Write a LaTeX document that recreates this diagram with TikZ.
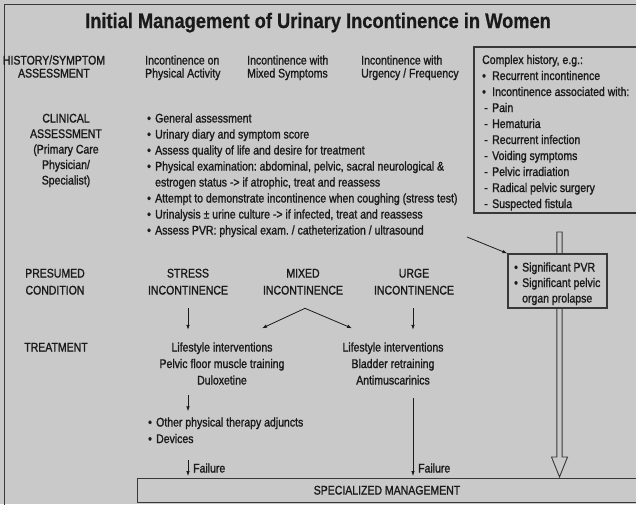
\documentclass[tikz,border=0pt]{standalone}
\usepackage{fontspec}
\setmainfont{Liberation Sans}[FakeStretch=0.84,FakeBold=1.3]
\newfontfamily\titlefont{Liberation Sans}[FakeStretch=0.87,FakeBold=0.6]
\usetikzlibrary{arrows.meta,calc}
\frenchspacing

\definecolor{bg}{HTML}{C9C9C9}
\definecolor{ink}{HTML}{1A1A1A}
\definecolor{rulec}{HTML}{383838}

% stacked lines with a fixed line pitch; the box baseline is the first line
\newcommand\ccol[2][16pt]{\vtop{\baselineskip=#1\lineskiplimit=-100pt\lineskip=0pt\halign{\hfil##\hfil\cr#2\crcr}}}
\newcommand\lcol[2][16pt]{\vtop{\baselineskip=#1\lineskiplimit=-100pt\lineskip=0pt\halign{##\hfil\cr#2\crcr}}}
\newcommand\bul[1][8pt]{\makebox[#1][l]{\textbullet}}
\newcommand\dsh{\makebox[10pt][l]{\,-}}

\begin{document}
\begin{tikzpicture}[x=1pt,y=-1pt,
  every node/.style={inner sep=0pt, text=ink, font=\fontsize{12.5}{16}\selectfont},
  boxline/.style={draw=rulec, line width=1.1pt},
  arr/.style={draw=ink, line width=0.8pt, -{Latex[length=5pt,width=3.6pt]}}]
\useasboundingbox (0,0) rectangle (636,504);
\clip (0,0) rectangle (636,504);
\fill[bg] (0,0) rectangle (636,504);

% outer frame
\draw[rulec, line width=1.3pt] (4.5,520) -- (4.5,4.5) -- (650,4.5);

% title
\node[font=\titlefont\bfseries\fontsize{21}{24}\selectfont, anchor=base] (title) at (318,28)
  {Initial Management of Urinary Incontinence in Women};

% column positions
\coordinate (colS) at (188,0);
\coordinate (colU) at (413,0);

% history / symptom row
\node[anchor=base] (histlab) at (54,64.5) {\ccol[13pt]{HISTORY/SYMPTOM\cr ASSESSMENT}};
\node[anchor=base west] (hphys) at (145,64.5) {\lcol[13pt]{Incontinence on\cr Physical Activity}};
\node[anchor=base west] (hmix) at (247,64.5) {\lcol[13pt]{Incontinence with\cr Mixed Symptoms}};
\node[anchor=base west] (hurg) at (361,64.5) {\lcol[13pt]{Incontinence with\cr Urgency / Frequency}};

% complex history box
\draw[boxline, fill=bg] (474,47) rectangle (650,213);
\node[anchor=base west] (complex) at (482,64) {\lcol{Complex history, e.g.:\cr
  \bul[10pt]Recurrent incontinence\cr
  \bul[10pt]Incontinence associated with:\cr
  \dsh Pain\cr
  \dsh Hematuria\cr
  \dsh Recurrent infection\cr
  \dsh Voiding symptoms\cr
  \dsh Pelvic irradiation\cr
  \dsh Radical pelvic surgery\cr
  \dsh Suspected fistula}};

% clinical assessment row
\node[anchor=base] (clinlab) at (66,122.5) {\ccol[15.5pt]{CLINICAL\cr ASSESSMENT\cr (Primary Care\cr Physician/\cr Specialist)}};
\node[anchor=base west] (clinlist) at (147,122.5) {\lcol{\bul General assessment\cr
  \bul Urinary diary and symptom score\cr
  \bul Assess quality of life and desire for treatment\cr
  \bul Physical examination: abdominal, pelvic, sacral neurological \&\cr
  \hphantom{\bul}estrogen status -> if atrophic, treat and reassess\cr
  \bul Attempt to demonstrate incontinence when coughing (stress test)\cr
  \bul Urinalysis \char"00B1\ urine culture -> if infected, treat and reassess\cr
  \bul Assess PVR: physical exam. / catheterization / ultrasound}};

% hollow arrow down to specialized management
\coordinate (dtop) at (559.5,232);
\coordinate (dhead) at (559.5,457);
\coordinate (dtip) at (559.5,477);
\draw[rulec, line width=0.9pt, fill=bg, line join=miter]
  ($(dtop)+(-2.6,0)$) -- ($(dhead)+(-2.6,0)$) -- ($(dhead)+(-8,0)$) -- (dtip)
  -- ($(dhead)+(8,0)$) -- ($(dhead)+(2.6,0)$) -- ($(dtop)+(2.6,0)$) -- cycle;

% PVR / prolapse box
\node[boxline, fill=bg, minimum width=99pt, minimum height=54pt] (pvr) at (557.5,281) {};
\node[anchor=base west] (pvrtext) at (514,271.5) {\lcol[15.5pt]{\bul Significant PVR\cr
  \bul Significant pelvic\cr \hphantom{\bul}organ prolapse}};
\coordinate (pvrfrom) at (467,237);
\draw[arr] (pvrfrom) -- (pvr.north west);

% presumed condition row
\node[anchor=base] (preslab) at (55,277.5) {\ccol[17pt]{PRESUMED\cr CONDITION}};
\node[anchor=base] (stress) at (188,277.5) {\ccol[17pt]{STRESS\cr INCONTINENCE}};
\node[anchor=base] (mixed) at (303,277.5) {\ccol[17pt]{MIXED\cr INCONTINENCE}};
\node[anchor=base] (urge) at (414,277.5) {\ccol[17pt]{URGE\cr INCONTINENCE}};

% treatment row
\node[anchor=base] (treatlab) at (56,351.5) {TREATMENT};
\node[anchor=base] (stresstx) at (222,351.5) {\ccol[16.5pt]{Lifestyle interventions\cr Pelvic floor muscle training\cr Duloxetine}};
\node[anchor=base] (urgetx) at (393,351.5) {\ccol[16.5pt]{Lifestyle interventions\cr Bladder retraining\cr Antimuscarinics}};

% condition -> treatment
\draw[arr] ($(stress.south)+(0,13.5)$) -- ($(colS |- stresstx.north)+(0,-12.5)$);
\draw[arr] ($(urge.south -| colU)+(0,13.5)$) -- ($(colU |- urgetx.north)+(0,-12.5)$);
\coordinate (mixtop) at ($(mixed.south)+(2,13.5)$);
\draw[arr] (mixtop) -- ($(stresstx.north)+(40,-14)$);
\draw[arr] (mixtop) -- ($(urgetx.north)+(-41,-14)$);

% further stress options
\node[anchor=base west] (adj) at (148,426.5) {\lcol[16.5pt]{\bul Other physical therapy adjuncts\cr \bul Devices}};
\draw[arr] ($(colS |- stresstx.south)+(0,10.5)$) -- ($(colS |- adj.north)+(0,-6)$);

% specialized management
\node[boxline, fill=bg, anchor=north west, minimum width=513pt, minimum height=24pt] (spec) at (137,478) {};
\node[anchor=base] (spectext) at (387,494.5) {SPECIALIZED MANAGEMENT};

% failure arrows
\draw[arr] ($(colS |- adj.south)+(0,17)$) -- ($(colS |- spec.north)+(0,-2)$);
\node[anchor=base west] (fail1) at (193,472.5) {Failure};
\draw[arr] ($(colU |- urgetx.south)+(0,13.5)$) -- ($(colU |- spec.north)+(0,-2)$);
\node[anchor=base west] (fail2) at (418,472.5) {Failure};
\end{tikzpicture}
\end{document}
